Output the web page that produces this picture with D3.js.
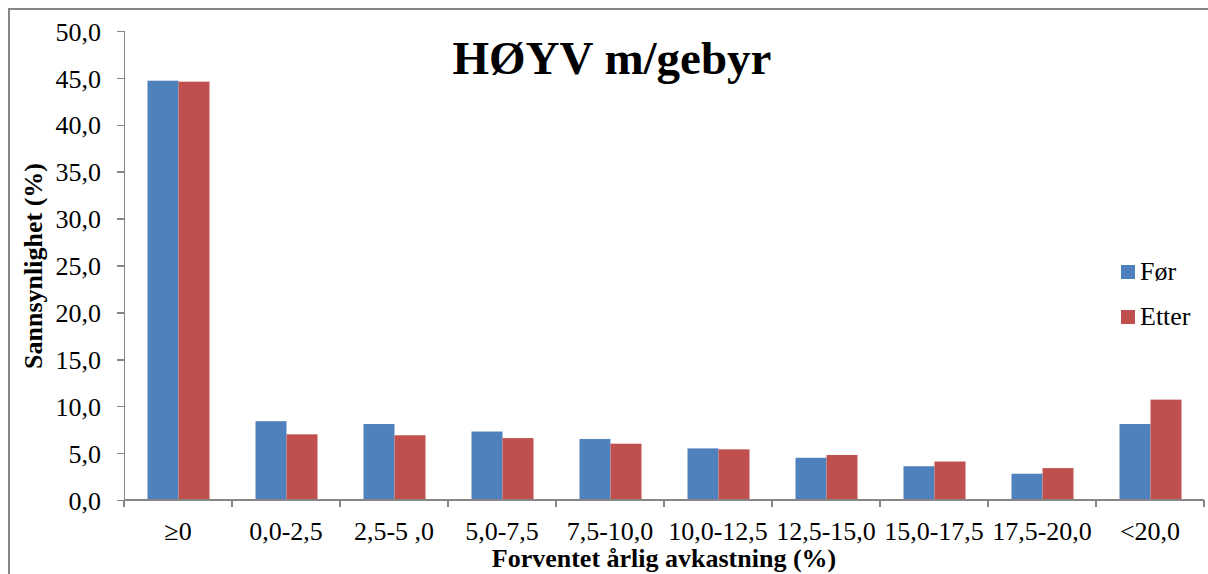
<!DOCTYPE html>
<meta charset="utf-8">
<script src="https://d3js.org/d3.v7.min.js"></script>
<style>
body { margin: 0; background: #fff; }
text { font-family: "Liberation Serif", "Times New Roman", serif; fill: #000; }
.axis path, .axis line { stroke: #868686; stroke-width: 1.5; fill: none; shape-rendering: crispEdges; }
</style>
<body>
<script>
// data
var categories = ["\u22650", "0,0-2,5", "2,5-5 ,0", "5,0-7,5", "7,5-10,0", "10,0-12,5", "12,5-15,0", "15,0-17,5", "17,5-20,0", "<20,0"];
var series = ["Før", "Etter"];
var forValues   = [44.7, 8.4, 8.1, 7.3, 6.5, 5.5, 4.5, 3.6, 2.8, 8.1];
var etterValues = [44.6, 7.0, 6.9, 6.6, 6.0, 5.4, 4.8, 4.1, 3.4, 10.7];
var yTicks = [0, 5, 10, 15, 20, 25, 30, 35, 40, 45, 50];
var colors = ["#4F81BD", "#C0504D"];

var width = 1208, height = 574;
var svg = d3.select("body").append("svg")
    .attr("width", width)
    .attr("height", height);

// outer chart frame (runs off the right and bottom edge)
svg.append("rect")
    .attr("x", 9).attr("y", 9)
    .attr("width", 1220).attr("height", 600)
    .attr("fill", "none")
    .attr("stroke", "#868686")
    .attr("stroke-width", 2);

var x = d3.scaleBand().domain(categories).range([124, 1204]).padding(0);
var xs = d3.scaleBand().domain(series).range([23.5, 85.5]).padding(0);
var y = d3.scaleLinear().domain([0, 50]).range([500, 31]);

var rows = categories.map(function(c, i) {
    return { cat: c, vals: [forValues[i], etterValues[i]] };
});

var fmt = function(d) { return d3.format(".1f")(d).replace(".", ","); };

// y axis
var yAxis = svg.append("g")
    .attr("class", "axis")
    .attr("transform", "translate(124,0)")
    .call(d3.axisLeft(y).tickValues(yTicks).tickFormat(fmt).tickSize(7).tickPadding(16));
yAxis.selectAll("text").attr("font-size", "26px").attr("dy", "0.35em");

// bars
var groups = svg.selectAll(".grp")
    .data(rows)
    .enter().append("g")
    .attr("class", "grp")
    .attr("transform", function(d) { return "translate(" + x(d.cat) + ",0)"; });

groups.selectAll("rect")
    .data(function(d) { return d.vals.map(function(v, i) { return { s: series[i], v: v, i: i }; }); })
    .enter().append("rect")
    .attr("x", function(d) { return xs(d.s); })
    .attr("width", xs.bandwidth())
    .attr("y", function(d) { return y(d.v); })
    .attr("height", function(d) { return y(0) - y(d.v); })
    .attr("fill", function(d) { return colors[d.i]; });

// x axis: ticks at category boundaries
var xAxis = svg.append("g")
    .attr("class", "axis")
    .attr("transform", "translate(0,500)");
xAxis.append("line").attr("x1", 124).attr("x2", 1204).attr("y1", 0).attr("y2", 0);
xAxis.selectAll(".tk")
    .data(categories.concat(["end"]))
    .enter().append("line")
    .attr("class", "tk")
    .attr("x1", function(d, i) { return 124 + i * x.step(); })
    .attr("x2", function(d, i) { return 124 + i * x.step(); })
    .attr("y1", 0).attr("y2", 7);
xAxis.selectAll(".lbl")
    .data(categories)
    .enter().append("text")
    .attr("class", "lbl")
    .attr("x", function(d) { return x(d) + x.bandwidth() / 2; })
    .attr("y", 40)
    .attr("text-anchor", "middle")
    .attr("font-size", "26px")
    .text(function(d) { return d; });

// titles
svg.append("text")
    .attr("x", 612).attr("y", 74)
    .attr("text-anchor", "middle")
    .attr("font-size", "47px")
    .attr("font-weight", "bold")
    .text("HØYV m/gebyr");

svg.append("text")
    .attr("x", 664).attr("y", 567)
    .attr("text-anchor", "middle")
    .attr("font-size", "26px")
    .attr("font-weight", "bold")
    .text("Forventet årlig avkastning (%)");

svg.append("text")
    .attr("transform", "translate(42,266) rotate(-90)")
    .attr("text-anchor", "middle")
    .attr("font-size", "26px")
    .attr("font-weight", "bold")
    .text("Sannsynlighet (%)");

// legend
var legend = svg.selectAll(".leg")
    .data(series)
    .enter().append("g")
    .attr("class", "leg")
    .attr("transform", function(d, i) { return "translate(1121," + (265 + i * 45) + ")"; });
legend.append("rect")
    .attr("width", 14).attr("height", 14)
    .attr("fill", function(d, i) { return colors[i]; });
legend.append("text")
    .attr("x", 19).attr("y", 15)
    .attr("font-size", "26px")
    .text(function(d) { return d; });
</script>
</body>
